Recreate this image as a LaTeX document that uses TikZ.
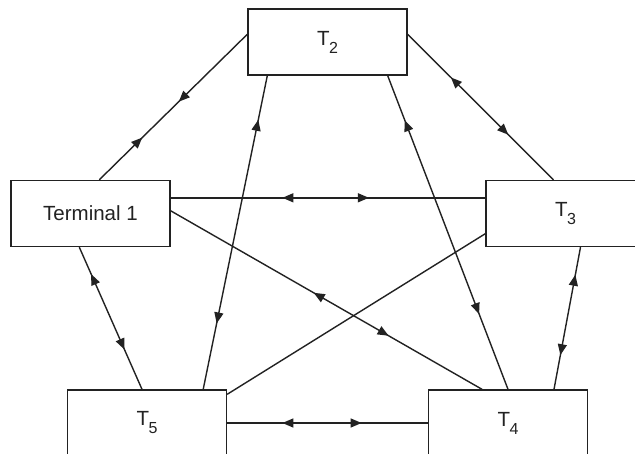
\documentclass[tikz,border=0pt]{standalone}
\usepackage{fontspec}
\setmainfont{Liberation Sans}
\usetikzlibrary{arrows.meta,decorations.markings}
\newcommand{\Tsub}[1]{T\kern-0.5pt{\fontsize{16}{16}\selectfont\raisebox{-8pt}{#1}}}
\definecolor{ink}{HTML}{222222}
\begin{document}
\begin{tikzpicture}[x=1pt,y=-1pt,
  term/.style={draw=ink, line width=1.4pt, minimum width=159pt, minimum height=66pt,
    inner sep=0pt, font=\fontsize{20.5}{24}\selectfont, text=ink},
  link/.style={draw=ink, line width=1.4pt},
  fwd/.style={postaction={decorate, decoration={markings,
    mark=at position #1 with {\arrow{Triangle[length=11pt,width=9pt]}}}}},
  bwd/.style={postaction={decorate, decoration={markings,
    mark=at position #1 with {\arrow{Triangle[reversed,length=11pt,width=9pt]}}}}}]
\useasboundingbox (0,0) rectangle (635,453);
\clip (0,0) rectangle (635,453);
\fill[white] (0,0) rectangle (635,453);

\node[term] (t1) at (90.5,213.5) {Terminal 1};
\node[term] (t2) at (327.5,42) {\Tsub{2}};
\node[term] (t3) at (565.5,213.5) {\Tsub{3}};
\node[term] (t4) at (508,423) {\Tsub{4}};
\node[term] (t5) at (147,423) {\Tsub{5}};

% Terminal 1 -- T2
\draw[link, fwd=0.29, bwd=0.59] ([xshift=89pt]t1.north west) -- ([yshift=-26pt]t2.north west);
% Terminal 1 -- T3
\draw[link, bwd=0.39, fwd=0.63] ([yshift=-18pt]t1.north east) -- ([yshift=-18pt]t3.north west);
% Terminal 1 -- T4
\draw[link, bwd=0.49, fwd=0.70] ([yshift=-31pt]t1.north east) -- ([xshift=-26pt]t4.north);
% T2 -- T5
\draw[link, bwd=0.175, fwd=0.79] ([xshift=20pt]t2.south west) -- ([xshift=-24pt]t5.north east);
% T2 -- T4
\draw[link, bwd=0.175, fwd=0.76] ([xshift=-20pt]t2.south east) -- (t4.north);
% T2 -- T3
\draw[link, bwd=0.35, fwd=0.69] ([yshift=-26pt]t2.north east) -- ([xshift=-12pt]t3.north);
% T3 -- T5
\draw[link] ([yshift=13.5pt]t3.south west) -- ([yshift=-5pt]t5.north east);
% T3 -- T4
\draw[link, bwd=0.27, fwd=0.76] ([xshift=15pt]t3.south) -- ([xshift=46pt]t4.north);
% T5 -- T4
\draw[link, bwd=0.33, fwd=0.67] (t5.east) -- (t4.west);
% Terminal 1 -- T5
\draw[link, bwd=0.26, fwd=0.72] ([xshift=69pt]t1.south west) -- ([xshift=-5pt]t5.north);
\end{tikzpicture}
\end{document}
